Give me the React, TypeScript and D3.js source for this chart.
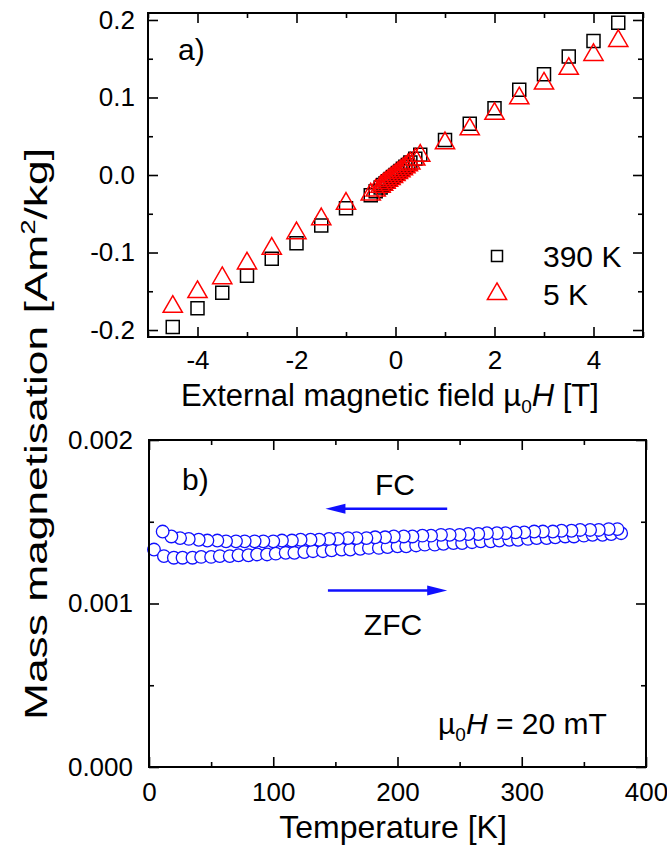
import React, { useEffect, useRef } from 'react'
import * as d3 from 'd3'

// panel a) : magnetisation loops
const fieldT = [-4.5, -4, -3.5, -3, -2.5, -2, -1.5, -1, -0.5, -0.4, -0.3, -0.25, -0.2, -0.15, -0.1, -0.05, 0,
  0.05, 0.1, 0.15, 0.2, 0.25, 0.3, 0.4, 0.5, 1, 1.5, 2, 2.5, 3, 3.5, 4, 4.5]
const mag390K = [-0.196, -0.172, -0.152, -0.130, -0.108, -0.088, -0.065, -0.043, -0.026, -0.021, -0.016, -0.013, -0.0105, -0.008, -0.0053, -0.0027, 0,
  0.0027, 0.0053, 0.008, 0.0105, 0.013, 0.016, 0.021, 0.026, 0.045, 0.066, 0.086, 0.110, 0.130, 0.153, 0.173, 0.1965]
const mag5K = [-0.170, -0.151, -0.133, -0.114, -0.095, -0.075, -0.057, -0.037, -0.025, -0.020, -0.015, -0.0125, -0.010, -0.0075, -0.005, -0.0025, 0,
  0.0025, 0.005, 0.0075, 0.010, 0.0125, 0.015, 0.020, 0.025, 0.041, 0.059, 0.079, 0.099, 0.118, 0.137, 0.155, 0.173]

// panel b) : ZFC / FC at 20 mT
const zfcTemp = [4, 12, 20, 27, 35, 42, 50, 57, 65, 72, 80, 87, 95, 102, 110, 117, 125, 132, 140, 147, 155, 162, 170, 177, 185,
  192, 200, 207, 215, 222, 230, 237, 245, 252, 260, 267, 275, 282, 290, 297, 305, 312, 320, 327, 335, 342, 350, 357, 365, 372, 380]
const zfcMag = [1.33, 1.29, 1.28, 1.28, 1.28, 1.285, 1.285, 1.29, 1.29, 1.295, 1.295, 1.30, 1.30, 1.305, 1.31, 1.31, 1.315, 1.32, 1.32, 1.325,
  1.33, 1.33, 1.335, 1.34, 1.34, 1.345, 1.35, 1.35, 1.355, 1.36, 1.36, 1.365, 1.37, 1.37, 1.375, 1.38, 1.38, 1.385, 1.39, 1.39,
  1.395, 1.40, 1.40, 1.405, 1.41, 1.41, 1.415, 1.42, 1.42, 1.425, 1.43]
const fcTemp = [11, 18, 25, 32, 40, 47, 55, 62, 70, 77, 85, 92, 100, 107, 115, 122, 130, 137, 145, 152, 160, 167, 175, 182, 190,
  197, 205, 212, 220, 227, 235, 242, 250, 257, 265, 272, 280, 287, 295, 302, 310, 317, 325, 332, 340, 347, 355, 362, 370, 377]
const fcMag = [1.44, 1.41, 1.40, 1.395, 1.39, 1.385, 1.385, 1.38, 1.38, 1.38, 1.38, 1.38, 1.38, 1.385, 1.385, 1.39, 1.39, 1.39, 1.395, 1.395,
  1.40, 1.40, 1.40, 1.405, 1.405, 1.41, 1.41, 1.41, 1.415, 1.415, 1.42, 1.42, 1.42, 1.425, 1.425, 1.43, 1.43, 1.43, 1.435, 1.435,
  1.44, 1.44, 1.44, 1.445, 1.445, 1.45, 1.45, 1.45, 1.455, 1.455]

// arrows [T start, T end, M (1e-3)]
const fcArrow = [240, 142, 1.58]
const zfcArrow = [144, 240, 1.08]

const FONT = "'Liberation Sans', Arial, sans-serif"

function drawFrame(g: any, x: any, y: any, xMajor: number[], xMinor: number[], yMajor: number[], yMinor: number[],
  xFmt: (d: number) => string, yFmt: (d: number) => string, xPad: number, yPad: number) {
  const [x0, x1] = x.range()
  const [y0, y1] = y.range() // y0 bottom, y1 top
  const tickStyle = (sel: any) => {
    sel.select('.domain').remove()
    sel.selectAll('line').attr('stroke', '#000').attr('stroke-width', 1.6)
    sel.selectAll('text').attr('font-family', FONT).attr('font-size', 26).attr('fill', '#000')
  }
  // major + minor on all four sides, pointing inward
  g.append('g').attr('transform', `translate(0,${y0})`)
    .call(d3.axisBottom(x).tickValues(xMajor).tickSize(-10).tickPadding(xPad).tickFormat(xFmt as any)).call(tickStyle)
  g.append('g').attr('transform', `translate(0,${y0})`)
    .call(d3.axisBottom(x).tickValues(xMinor).tickSize(-5).tickFormat(() => '')).call(tickStyle)
  g.append('g').attr('transform', `translate(0,${y1})`)
    .call(d3.axisTop(x).tickValues(xMajor).tickSize(-10).tickFormat(() => '')).call(tickStyle)
  g.append('g').attr('transform', `translate(0,${y1})`)
    .call(d3.axisTop(x).tickValues(xMinor).tickSize(-5).tickFormat(() => '')).call(tickStyle)
  g.append('g').attr('transform', `translate(${x0},0)`)
    .call(d3.axisLeft(y).tickValues(yMajor).tickSize(-10).tickPadding(yPad).tickFormat(yFmt as any)).call(tickStyle)
  g.append('g').attr('transform', `translate(${x0},0)`)
    .call(d3.axisLeft(y).tickValues(yMinor).tickSize(-5).tickFormat(() => '')).call(tickStyle)
  g.append('g').attr('transform', `translate(${x1},0)`)
    .call(d3.axisRight(y).tickValues(yMajor).tickSize(-10).tickFormat(() => '')).call(tickStyle)
  g.append('g').attr('transform', `translate(${x1},0)`)
    .call(d3.axisRight(y).tickValues(yMinor).tickSize(-5).tickFormat(() => '')).call(tickStyle)
  g.append('rect').attr('x', x0).attr('y', y1).attr('width', x1 - x0).attr('height', y0 - y1)
    .attr('fill', 'none').attr('stroke', '#000').attr('stroke-width', 2)
}

export default function App() {
  const ref = useRef<SVGSVGElement>(null)

  useEffect(() => {
    const svg = d3.select(ref.current)
    svg.selectAll('*').remove()

    // ---------- panel a ----------
    const xa = d3.scaleLinear().domain([-5, 5]).range([148, 643])
    const ya = d3.scaleLinear().domain([-0.209, 0.209]).range([337, 13])
    const ga = svg.append('g')

    const sq = d3.symbol().type(d3.symbolSquare).size(169)
    const tri = d3.symbol().type(d3.symbolTriangle).size(160)

    ga.selectAll('.p390').data(fieldT).join('path').attr('class', 'p390')
      .attr('d', sq as any)
      .attr('transform', (d, i) => `translate(${xa(d)},${ya(mag390K[i])})`)
      .attr('fill', 'none').attr('stroke', '#000').attr('stroke-width', 1.5)
    ga.selectAll('.p5').data(fieldT).join('path').attr('class', 'p5')
      .attr('d', tri as any)
      .attr('transform', (d, i) => `translate(${xa(d)},${ya(mag5K[i])})`)
      .attr('fill', 'none').attr('stroke', '#ff0000').attr('stroke-width', 1.5)

    drawFrame(ga, xa, ya, [-4, -2, 0, 2, 4], [-5, -3, -1, 1, 3, 5], [-0.2, -0.1, 0, 0.1, 0.2], [-0.15, -0.05, 0.05, 0.15],
      d => String(d), d => d.toFixed(1), 14, 13)

    // legend
    ga.append('path').attr('d', d3.symbol().type(d3.symbolSquare).size(121)() as string)
      .attr('transform', 'translate(497,256)').attr('fill', 'none').attr('stroke', '#000').attr('stroke-width', 1.5)
    ga.append('path').attr('d', tri() as string)
      .attr('transform', 'translate(497,294)').attr('fill', 'none').attr('stroke', '#ff0000').attr('stroke-width', 1.5)
    ga.append('text').attr('x', 543).attr('y', 267).text('390 K')
    ga.append('text').attr('x', 543).attr('y', 305).text('5 K')
    ga.append('text').attr('x', 178).attr('y', 60).text('a)')
    ga.selectAll('text').filter(function () { return !(this as any).closest('.tick') })
      .attr('font-family', FONT).attr('font-size', 30)

    const xt = ga.append('text').attr('x', 390).attr('y', 406).attr('text-anchor', 'middle')
      .attr('font-family', FONT).attr('font-size', 31)
    xt.append('tspan').text('External magnetic field \u00b5')
    xt.append('tspan').attr('font-size', 19).attr('dy', 7).text('0')
    xt.append('tspan').attr('dy', -7).attr('font-style', 'italic').text('H')
    xt.append('tspan').text(' [T]')

    // ---------- panel b ----------
    const xb = d3.scaleLinear().domain([0, 400]).range([149, 646])
    const yb = d3.scaleLinear().domain([0, 0.002]).range([767, 440])
    const gb = svg.append('g')

    gb.selectAll('.zfc').data(zfcTemp).join('circle').attr('class', 'zfc')
      .attr('cx', d => xb(d)).attr('cy', (d, i) => yb(zfcMag[i] / 1000)).attr('r', 6.3)
      .attr('fill', '#fff').attr('stroke', '#1010ff').attr('stroke-width', 1.3)
    const fcIdx = fcTemp.map((d, i) => i).reverse()
    gb.selectAll('.fc').data(fcIdx).join('circle').attr('class', 'fc')
      .attr('cx', i => xb(fcTemp[i])).attr('cy', i => yb(fcMag[i] / 1000)).attr('r', 6.3)
      .attr('fill', '#fff').attr('stroke', '#1010ff').attr('stroke-width', 1.3)

    const arrow = (a: number[]) => {
      const xs = xb(a[0]), xe = xb(a[1]), yy = yb(a[2] / 1000)
      const dir = Math.sign(xe - xs)
      gb.append('line').attr('x1', xs).attr('x2', xe - dir * 14).attr('y1', yy).attr('y2', yy)
        .attr('stroke', '#1010ff').attr('stroke-width', 2.5)
      gb.append('path')
        .attr('d', `M${xe},${yy} L${xe - dir * 20},${yy - 5} L${xe - dir * 20},${yy + 5} Z`)
        .attr('fill', '#1010ff')
    }
    arrow(fcArrow)
    arrow(zfcArrow)

    drawFrame(gb, xb, yb, [0, 100, 200, 300, 400], [50, 150, 250, 350], [0, 0.001, 0.002], [0.0005, 0.0015],
      d => String(d), d => d.toFixed(3), 16, 16)

    const lab = (x: number, y: number, t: string, anchor = 'start') =>
      gb.append('text').attr('x', x).attr('y', y).attr('text-anchor', anchor)
        .attr('font-family', FONT).attr('font-size', 30).text(t)
    lab(182, 490, 'b)')
    lab(395, 495, 'FC', 'middle')
    lab(393, 635, 'ZFC', 'middle')

    const ht = gb.append('text').attr('x', 438).attr('y', 734).attr('font-family', FONT).attr('font-size', 30)
    ht.append('tspan').text('\u00b5')
    ht.append('tspan').attr('font-size', 19).attr('dy', 7).text('0')
    ht.append('tspan').attr('dy', -7).attr('font-style', 'italic').text('H')
    ht.append('tspan').text(' = 20 mT')

    gb.append('text').attr('x', 393).attr('y', 838).attr('text-anchor', 'middle')
      .attr('font-family', FONT).attr('font-size', 32).text('Temperature [K]')

    // shared y title (stretched along its length as in the original)
    const yt = svg.append('text').attr('transform', 'translate(47,434) rotate(-90)').attr('text-anchor', 'middle')
      .attr('font-family', FONT).attr('font-size', 32)
      .attr('textLength', 572).attr('lengthAdjust', 'spacingAndGlyphs')
    yt.append('tspan').text('Mass magnetisation [Am')
    yt.append('tspan').attr('font-size', 20).attr('dy', -12).text('2')
    yt.append('tspan').attr('dy', 12).text('/kg]')
  }, [])

  return (
    <svg ref={ref} width={667} height={862} style={{ position: 'absolute', left: 0, top: 0, background: '#fff' }} />
  )
}
